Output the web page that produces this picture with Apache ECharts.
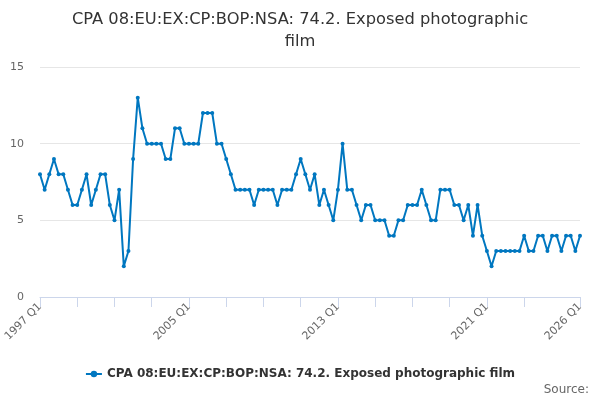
<!DOCTYPE html>
<html><head><meta charset="utf-8">
<script src="https://cdn.jsdelivr.net/npm/echarts@6/dist/echarts.min.js"></script>
<style>html,body{margin:0;padding:0;background:#fff}#c{width:600px;height:400px}</style>
</head><body><div id="c"></div>
<script>
const seriesName = 'CPA 08:EU:EX:CP:BOP:NSA: 74.2. Exposed photographic film';
const titleText = 'CPA 08:EU:EX:CP:BOP:NSA: 74.2. Exposed photographic\nfilm';
const startYear = 1997, endYear = 2026;
const categories = [];
for (let y = startYear; y <= endYear; y++) {
  for (let q = 1; q <= 4; q++) {
    if (y === endYear && q > 1) break;
    categories.push(y + ' Q' + q);
  }
}
const values = [
  8,7,8,9,8,8,7,6,6,7,8,6,7,8,8,6,5,7,2,3,9,
  13,11,10,10,10,10,9,9,11,11,10,10,10,10,12,12,12,10,10,9,
  8,7,7,7,7,6,7,7,7,7,6,7,7,7,8,9,8,7,8,6,
  7,6,5,7,10,7,7,6,5,6,6,5,5,5,4,4,5,5,6,6,
  6,7,6,5,5,7,7,7,6,6,5,6,4,6,4,3,2,3,3,3,
  3,3,3,4,3,3,4,4,3,4,4,3,4,4,3,4
];
const yTicks = [0, 5, 10, 15];
const lastIdx = categories.length - 1;

const chart = echarts.init(document.getElementById('c'), null, {renderer: 'canvas'});
chart.setOption({
  animation: false,
  textStyle: {fontFamily: 'DejaVu Sans'},
  title: {
    text: titleText, left: 'center', top: 4,
    textStyle: {fontSize: 16.3, fontWeight: 'normal', color: '#333333', lineHeight: 22, fontFamily: 'DejaVu Sans'}
  },
  grid: {left: 40, right: 20, top: 67, bottom: 103, containLabel: false},
  xAxis: {
    type: 'category', data: categories, boundaryGap: false,
    axisLine: {lineStyle: {color: '#ccd6eb', width: 1}},
    axisTick: {length: 10, lineStyle: {color: '#ccd6eb'},
      interval: (i) => (i % 8 === 0 && i <= 104) || i === lastIdx},
    axisLabel: {rotate: 45, color: '#666666', fontSize: 11, margin: 8,
      interval: (i) => i % 32 === 0 || i === lastIdx, fontFamily: 'DejaVu Sans'},
    splitLine: {show: false}
  },
  yAxis: {
    type: 'value', min: yTicks[0], max: yTicks[yTicks.length - 1], interval: 5,
    axisLine: {show: false}, axisTick: {show: false},
    axisLabel: {color: '#666666', fontSize: 11, margin: 16, fontFamily: 'DejaVu Sans'},
    splitLine: {lineStyle: {color: '#e6e6e6'}}
  },
  legend: {
    bottom: 15, left: 'center', itemWidth: 16, itemHeight: 8, itemGap: 10,
    textStyle: {fontSize: 12, fontWeight: 'bold', color: '#333333', fontFamily: 'DejaVu Sans'},
    data: [seriesName]
  },
  graphic: [{
    type: 'text', right: 11, bottom: 4,
    style: {text: 'Source:', fill: '#666666', fontSize: 12, fontFamily: 'DejaVu Sans'}
  }],
  series: [{
    name: seriesName, type: 'line', data: values,
    symbol: 'circle', symbolSize: 4, showSymbol: true, showAllSymbol: true,
    lineStyle: {color: '#0077c0', width: 2},
    itemStyle: {color: '#0077c0'}
  }]
});
</script></body></html>
